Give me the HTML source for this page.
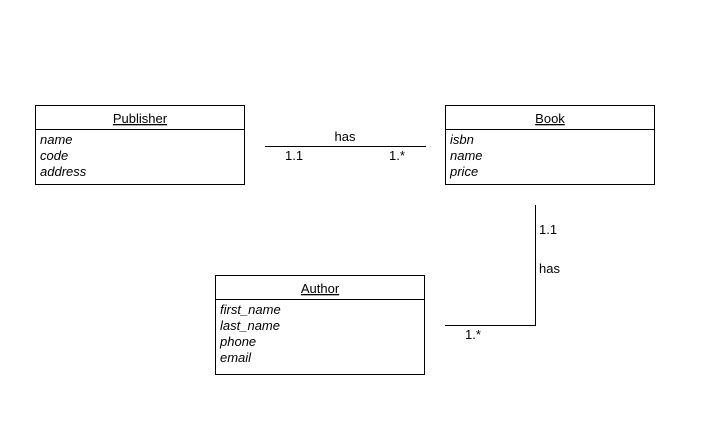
<!DOCTYPE html>
<html><head><style>body{margin:0;background:#fff}svg{display:block}</style></head><body>
<svg width="719" height="426" xmlns="http://www.w3.org/2000/svg" font-family="Liberation Sans, Arial, sans-serif" font-size="13">
<rect width="719" height="426" fill="#fff"/>
<g fill="none" stroke="#000" stroke-width="1">
<rect x="35.5" y="105.5" width="209" height="79"/>
<line x1="35" y1="129.5" x2="244" y2="129.5"/>
<rect x="445.5" y="105.5" width="209" height="79"/>
<line x1="445" y1="129.5" x2="654" y2="129.5"/>
<rect x="215.5" y="275.5" width="209" height="99"/>
<line x1="215" y1="299.5" x2="424" y2="299.5"/>
<line x1="265" y1="146.5" x2="426" y2="146.5"/>
<polyline points="535.5,205 535.5,325.5 445,325.5"/>
</g>
<g fill="#000">
<text x="140" y="123" text-anchor="middle" text-decoration="underline">Publisher</text>
<g font-style="italic"><text x="40" y="144">name</text><text x="40" y="160">code</text><text x="40" y="176">address</text></g>
<text x="550" y="123" text-anchor="middle" text-decoration="underline">Book</text>
<g font-style="italic"><text x="450" y="144">isbn</text><text x="450" y="160">name</text><text x="450" y="176">price</text></g>
<text x="320" y="293" text-anchor="middle" text-decoration="underline">Author</text>
<g font-style="italic"><text x="220" y="314">first_name</text><text x="220" y="330">last_name</text><text x="220" y="346">phone</text><text x="220" y="362">email</text></g>
<text x="345" y="141" text-anchor="middle">has</text>
<text x="285" y="160">1.1</text>
<text x="389" y="160">1.*</text>
<text x="539" y="234">1.1</text>
<text x="539" y="273">has</text>
<text x="465" y="339">1.*</text>
</g>
</svg>
</body></html>
